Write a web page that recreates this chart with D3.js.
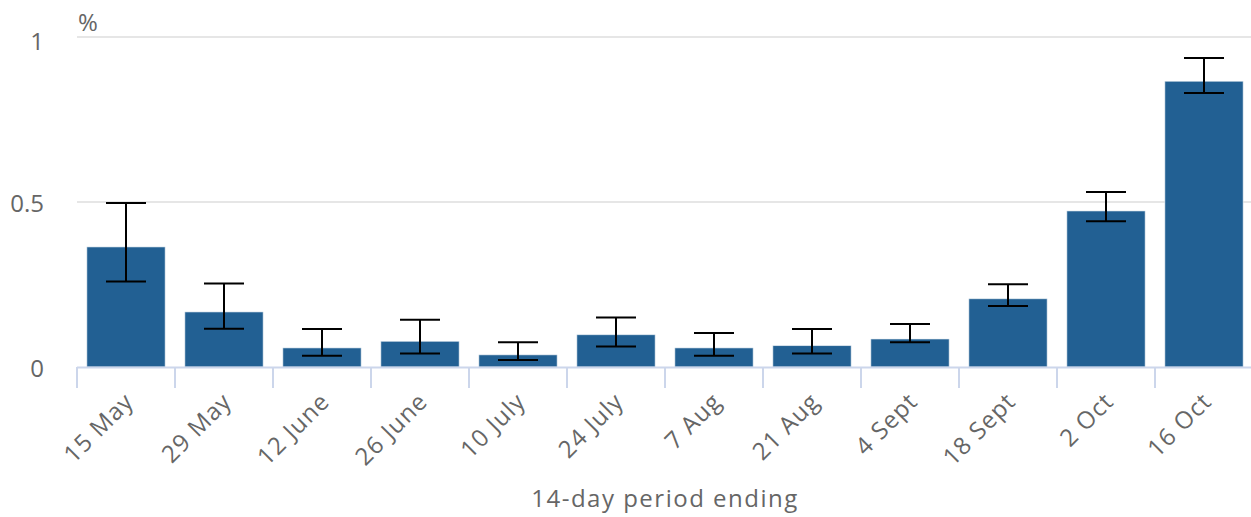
<!DOCTYPE html>
<html>
<head>
<meta charset="utf-8">
<script src="https://cdn.jsdelivr.net/npm/d3@7"></script>
<style>
  html, body { margin: 0; padding: 0; background: #fff; }
  svg { display: block; font-family: "Open Sans", "Noto Sans", sans-serif; }
</style>
</head>
<body>
<svg id="chart" width="1251" height="517"></svg>
<script>
// 14-day periods and estimated positivity (%) with 95% interval bounds
const periods = ["15 May", "29 May", "12 June", "26 June", "10 July", "24 July",
                 "7 Aug", "21 Aug", "4 Sept", "18 Sept", "2 Oct", "16 Oct"];
const estimate = [0.364, 0.167, 0.058, 0.078, 0.037, 0.098, 0.058, 0.065, 0.085, 0.207, 0.473, 0.866];
const lower    = [0.259, 0.116, 0.034, 0.041, 0.021, 0.062, 0.034, 0.041, 0.075, 0.185, 0.442, 0.830];
const upper    = [0.497, 0.253, 0.115, 0.143, 0.075, 0.150, 0.103, 0.115, 0.130, 0.251, 0.530, 0.936];
const yTicks   = [0, 0.5, 1];
const yTickLabels = ["0", "0.5", "1"];

const svg = d3.select("#chart");
const left = 77, right = 1253, plotBottom = 367, plotTop = 37;
const fs = 24;

const band = d3.scaleBand().domain(periods).range([left, right]);
const y = d3.scaleLinear().domain([0, 1]).range([plotBottom, plotTop]);

// gridlines
svg.append("g").selectAll("line").data(yTicks.filter(d => d > 0)).join("line")
  .attr("x1", left).attr("x2", right)
  .attr("y1", d => y(d)).attr("y2", d => y(d))
  .attr("stroke", "#e6e6e6").attr("stroke-width", 2);

// y labels
svg.append("g").selectAll("text").data(yTicks).join("text")
  .attr("x", 44).attr("y", d => y(d) + (d === 1 ? 13 : 10))
  .attr("text-anchor", "end")
  .attr("fill", "#666").attr("font-size", fs)
  .text((d, i) => yTickLabels[i]);

svg.append("text").attr("x", 78).attr("y", 31)
  .attr("fill", "#666").attr("font-size", fs).text("%");

// bars
const bw = band.bandwidth() * 0.8;
svg.append("g").selectAll("rect").data(periods).join("rect")
  .attr("x", d => band(d) + band.bandwidth() * 0.1)
  .attr("width", bw)
  .attr("y", (d, i) => y(estimate[i]))
  .attr("height", (d, i) => y(0) - y(estimate[i]))
  .attr("fill", "#226093")
  .attr("stroke", "#ffffff").attr("stroke-opacity", 0.6).attr("stroke-width", 1);

// error bars
const eb = svg.append("g").attr("stroke", "#000").attr("stroke-width", 2).attr("fill", "none");
periods.forEach((p, i) => {
  const cx = band(p) + band.bandwidth() / 2;
  eb.append("line").attr("x1", cx).attr("x2", cx).attr("y1", y(lower[i])).attr("y2", y(upper[i]));
  eb.append("line").attr("x1", cx - 20).attr("x2", cx + 20).attr("y1", y(lower[i])).attr("y2", y(lower[i]));
  eb.append("line").attr("x1", cx - 20).attr("x2", cx + 20).attr("y1", y(upper[i])).attr("y2", y(upper[i]));
});

// x axis line and ticks
svg.append("line").attr("x1", left).attr("x2", right)
  .attr("y1", plotBottom + 0.5).attr("y2", plotBottom + 0.5)
  .attr("stroke", "#ccd6eb").attr("stroke-width", 2);
svg.append("g").selectAll("line").data(periods).join("line")
  .attr("x1", d => band(d)).attr("x2", d => band(d))
  .attr("y1", plotBottom).attr("y2", plotBottom + 21)
  .attr("stroke", "#ccd6eb").attr("stroke-width", 2);

// rotated category labels
svg.append("g").selectAll("text").data(periods).join("text")
  .attr("transform", d => `translate(${band(d) + band.bandwidth() / 2 + 9},${plotBottom + 36}) rotate(-45)`)
  .attr("text-anchor", "end")
  .attr("letter-spacing", 1)
  .attr("fill", "#666").attr("font-size", fs)
  .text(d => d);

svg.append("text").attr("x", (left + right) / 2).attr("y", 507)
  .attr("text-anchor", "middle").attr("fill", "#666").attr("font-size", fs)
  .attr("letter-spacing", 1.5)
  .text("14-day period ending");
</script>
</body>
</html>
